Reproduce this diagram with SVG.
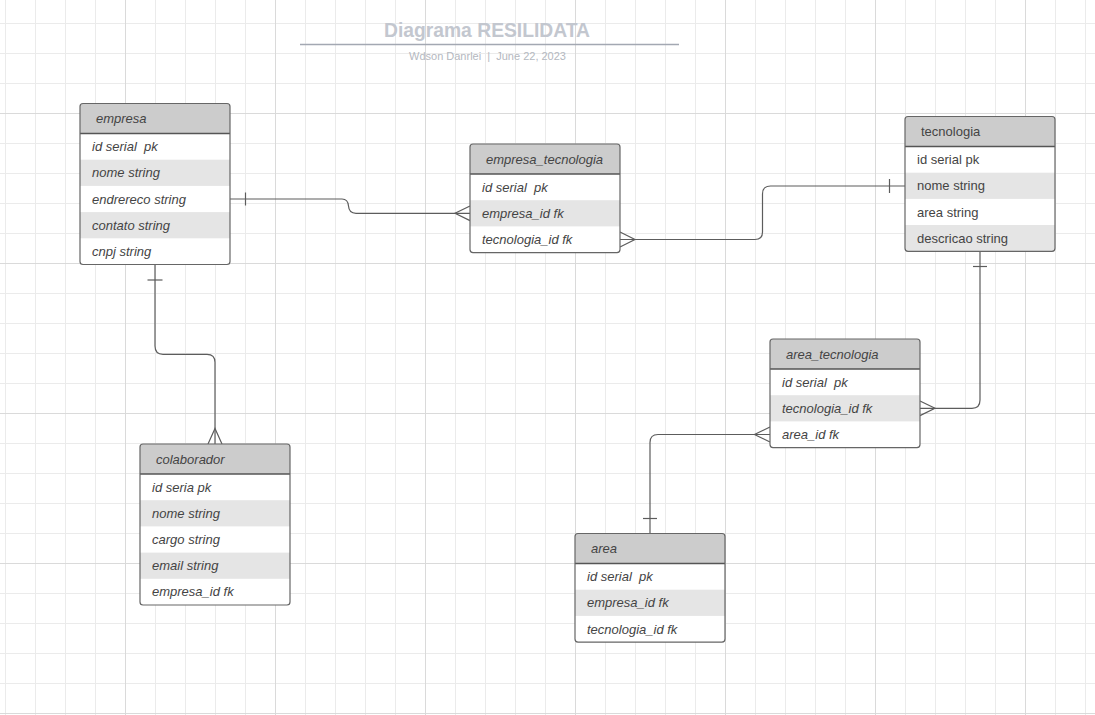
<svg xmlns="http://www.w3.org/2000/svg" width="1095" height="715" viewBox="0 0 1095 715">
<style>
.t{font-family:"Liberation Sans",Arial,sans-serif;font-size:13px;fill:#444;white-space:pre}
.i{font-style:italic}
.box{fill:none;stroke:#666;stroke-width:1.2}
.bg{fill:#fff}
.hd{fill:#cccccc}
.alt{fill:#e5e5e5}
.sep{stroke:#555;stroke-width:1.5}
.c{fill:none;stroke:#5c5c5c;stroke-width:1.2}
</style>
<defs>
<pattern id="grid" x="110" y="98" width="150" height="150" patternUnits="userSpaceOnUse">
<path d="M45.5,0V150M75.5,0V150M105.5,0V150M135.5,0V150M0,45.5H150M0,75.5H150M0,105.5H150M0,135.5H150" stroke="#ebebeb" stroke-width="1" fill="none"/>
<path d="M15.5,0V150M0,15.5H150" stroke="#dadada" stroke-width="1" fill="none"/>
</pattern>
</defs>
<rect width="1095" height="715" fill="#fff"/>
<rect width="1095" height="715" fill="url(#grid)"/>

<g id="title">
<text x="487" y="37" text-anchor="middle" style="font-family:'Liberation Sans',Arial,sans-serif;font-size:19.3px;font-weight:bold;fill:#c3c7cf">Diagrama RESILIDATA</text>
<line x1="300" y1="44.5" x2="679" y2="44.5" stroke="#a3a8b2" stroke-width="1.5"/>
<text x="487.5" y="60" text-anchor="middle" xml:space="preserve" style="font-family:'Liberation Sans',Arial,sans-serif;font-size:11px;fill:#b4b8c0;white-space:pre">Wdson Danrlei  |  June 22, 2023</text>
</g>

<g id="connectors">
<path class="c" d="M230,199H342Q348,199 348.5,206Q349,213.3 356,213.3H470"/>
<path class="c" d="M245.5,192.5V205.5"/>
<path class="c" d="M470,206L455,213.3L470,220.6"/>

<path class="c" d="M620,239.5H755Q762.5,239.5 762.5,232V194Q762.5,186 770.5,186H905"/>
<path class="c" d="M889.5,179V193"/>
<path class="c" d="M620,232L635,239.5L620,247"/>

<path class="c" d="M980,251.3V400Q980,408.3 972,408.3H920"/>
<path class="c" d="M973,266.5H987"/>
<path class="c" d="M920,401L935,408.3L920,415.6"/>

<path class="c" d="M770,434.5H658Q650,434.5 650,442.5V533.5"/>
<path class="c" d="M643,518.5H657"/>
<path class="c" d="M770,427L754.5,434.5L770,442"/>

<path class="c" d="M155,264.5V346Q155,354.3 163,354.3H207Q215,354.3 215,362.3V444"/>
<path class="c" d="M147.5,280H162.5"/>
<path class="c" d="M208,444L215,428.5L222,444"/>
</g>

<g id="empresa">
<rect class="bg" x="80" y="103.5" width="150" height="161" rx="3"/>
<path class="hd" d="M80,133.5V106.5Q80,103.5 83,103.5H227Q230,103.5 230,106.5V133.5Z"/>
<rect class="alt" x="80" y="159.7" width="150" height="26.2"/>
<rect class="alt" x="80" y="212.1" width="150" height="26.2"/>
<line class="sep" x1="80" y1="133.5" x2="230" y2="133.5"/>
<rect class="box" x="80" y="103.5" width="150" height="161" rx="3"/>
<text class="t i" x="96" y="123">empresa</text>
<text class="t i" x="92" y="151.1" xml:space="preserve">id serial  pk</text>
<text class="t i" x="92" y="177.3">nome string</text>
<text class="t i" x="92" y="203.5">endrereco string</text>
<text class="t i" x="92" y="229.7">contato string</text>
<text class="t i" x="92" y="255.9">cnpj string</text>
</g>

<g id="empresa_tecnologia">
<rect class="bg" x="470" y="144" width="150" height="108.6" rx="3"/>
<path class="hd" d="M470,174V147Q470,144 473,144H617Q620,144 620,147V174Z"/>
<rect class="alt" x="470" y="200.2" width="150" height="26.2"/>
<line class="sep" x1="470" y1="174" x2="620" y2="174"/>
<rect class="box" x="470" y="144" width="150" height="108.6" rx="3"/>
<text class="t i" x="486" y="163.5">empresa_tecnologia</text>
<text class="t i" x="482" y="191.6" xml:space="preserve">id serial  pk</text>
<text class="t i" x="482" y="217.8">empresa_id fk</text>
<text class="t i" x="482" y="244">tecnologia_id fk</text>
</g>

<g id="tecnologia">
<rect class="bg" x="905" y="116.5" width="150" height="134.8" rx="3"/>
<path class="hd" d="M905,146.5V119.5Q905,116.5 908,116.5H1052Q1055,116.5 1055,119.5V146.5Z"/>
<rect class="alt" x="905" y="172.7" width="150" height="26.2"/>
<path class="alt" d="M905,225.1H1055V248.3Q1055,251.3 1052,251.3H908Q905,251.3 905,248.3Z"/>
<line class="sep" x1="905" y1="146.5" x2="1055" y2="146.5"/>
<rect class="box" x="905" y="116.5" width="150" height="134.8" rx="3"/>
<text class="t" x="921" y="136">tecnologia</text>
<text class="t" x="917" y="164.1">id serial pk</text>
<text class="t" x="917" y="190.3">nome string</text>
<text class="t" x="917" y="216.5">area string</text>
<text class="t" x="917" y="242.7">descricao string</text>
</g>

<g id="area_tecnologia">
<rect class="bg" x="770" y="339" width="150" height="108.6" rx="3"/>
<path class="hd" d="M770,369V342Q770,339 773,339H917Q920,339 920,342V369Z"/>
<rect class="alt" x="770" y="395.2" width="150" height="26.2"/>
<line class="sep" x1="770" y1="369" x2="920" y2="369"/>
<rect class="box" x="770" y="339" width="150" height="108.6" rx="3"/>
<text class="t i" x="786" y="358.5">area_tecnologia</text>
<text class="t i" x="782" y="386.6" xml:space="preserve">id serial  pk</text>
<text class="t i" x="782" y="412.8">tecnologia_id fk</text>
<text class="t i" x="782" y="439">area_id fk</text>
</g>

<g id="area">
<rect class="bg" x="575" y="533.5" width="150" height="108.6" rx="3"/>
<path class="hd" d="M575,563.5V536.5Q575,533.5 578,533.5H722Q725,533.5 725,536.5V563.5Z"/>
<rect class="alt" x="575" y="589.7" width="150" height="26.2"/>
<line class="sep" x1="575" y1="563.5" x2="725" y2="563.5"/>
<rect class="box" x="575" y="533.5" width="150" height="108.6" rx="3"/>
<text class="t i" x="591" y="553">area</text>
<text class="t i" x="587" y="581.1" xml:space="preserve">id serial  pk</text>
<text class="t i" x="587" y="607.3">empresa_id fk</text>
<text class="t i" x="587" y="633.5">tecnologia_id fk</text>
</g>

<g id="colaborador">
<rect class="bg" x="140" y="444" width="150" height="161" rx="3"/>
<path class="hd" d="M140,474V447Q140,444 143,444H287Q290,444 290,447V474Z"/>
<rect class="alt" x="140" y="500.2" width="150" height="26.2"/>
<rect class="alt" x="140" y="552.6" width="150" height="26.2"/>
<line class="sep" x1="140" y1="474" x2="290" y2="474"/>
<rect class="box" x="140" y="444" width="150" height="161" rx="3"/>
<text class="t i" x="156" y="463.5">colaborador</text>
<text class="t i" x="152" y="491.6">id seria pk</text>
<text class="t i" x="152" y="517.8">nome string</text>
<text class="t i" x="152" y="544">cargo string</text>
<text class="t i" x="152" y="570.2">email string</text>
<text class="t i" x="152" y="596.4">empresa_id fk</text>
</g>
</svg>
